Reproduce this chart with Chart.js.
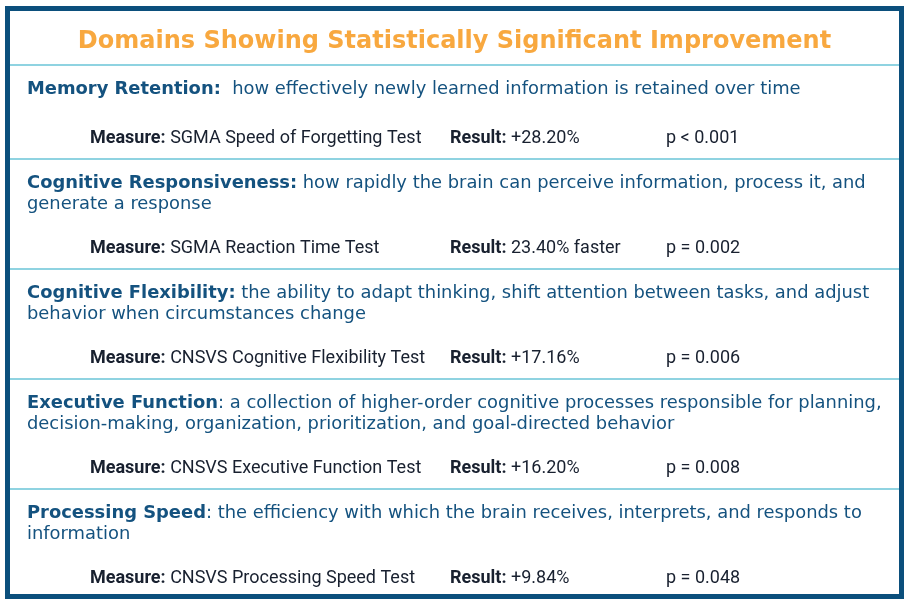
<!DOCTYPE html>
<html>
<head>
<meta charset="utf-8">
<script src="https://cdn.jsdelivr.net/npm/chart.js@4"></script>
<style>
  html, body { margin: 0; padding: 0; background: #ffffff; }
  #domainsChart { display: block; }
</style>
</head>
<body>
<canvas id="domainsChart" width="907" height="602"></canvas>
<script>
// Table content
const title = 'Domains Showing Statistically Significant Improvement';
const domains = ['Memory Retention:', 'Cognitive Responsiveness:', 'Cognitive Flexibility:', 'Executive Function', 'Processing Speed'];
const descriptions = [
  ['  how effectively newly learned information is retained over time'],
  [' how rapidly the brain can perceive information, process it, and', 'generate a response'],
  [' the ability to adapt thinking, shift attention between tasks, and adjust', 'behavior when circumstances change'],
  [': a collection of higher-order cognitive processes responsible for planning,', 'decision-making, organization, prioritization, and goal-directed behavior'],
  [': the efficiency with which the brain receives, interprets, and responds to', 'information']
];
const measures = ['SGMA Speed of Forgetting Test', 'SGMA Reaction Time Test', 'CNSVS Cognitive Flexibility Test', 'CNSVS Executive Function Test', 'CNSVS Processing Speed Test'];
const results = ['+28.20%', '23.40% faster', '+17.16%', '+16.20%', '+9.84%'];
const pValues = ['p < 0.001', 'p = 0.002', 'p = 0.006', 'p = 0.008', 'p = 0.048'];

// colours
const borderColor = '#0b4f7c';
const lineColor = '#8fd3e1';
const titleColor = '#f8a83f';
const domainColor = '#14527f';
const measureColor = '#18202f';

const descFont = '"DejaVu Sans", sans-serif';
const measureFont = 'Roboto, sans-serif';

// draws the whole table inside the chart area
const tablePlugin = {
  id: 'tablePlugin',
  afterDraw(chart) {
    const ctx = chart.ctx;
    const area = chart.chartArea;
    ctx.save();

    // title
    ctx.fillStyle = titleColor;
    ctx.font = 'bold 24px ' + descFont;
    ctx.textAlign = 'center';
    ctx.textBaseline = 'middle';
    ctx.fillText(title, (area.left + area.right) / 2, area.top + 31);

    let y = area.top + 54; // first separator
    const lineH = 21;
    for (let i = 0; i < domains.length; i++) {
      // separator above the row
      ctx.strokeStyle = lineColor;
      ctx.lineWidth = 2;
      ctx.beginPath();
      ctx.moveTo(area.left, Math.round(y));
      ctx.lineTo(area.right, Math.round(y));
      ctx.stroke();

      ctx.textAlign = 'left';
      let ty = y + 24;
      const x0 = area.left + 17;
      // domain name + first line of description
      ctx.fillStyle = domainColor;
      ctx.font = 'bold 17.9px ' + descFont;
      ctx.fillText(domains[i], x0, ty);
      const w = ctx.measureText(domains[i]).width;
      ctx.font = '17.9px ' + descFont;
      ctx.fillText(descriptions[i][0], x0 + w, ty);
      for (let k = 1; k < descriptions[i].length; k++) {
        ty += lineH;
        ctx.fillText(descriptions[i][k], x0, ty);
      }

      // measure / result / p value line
      ty += descriptions[i].length === 1 ? 49.5 : 44.5;
      ctx.fillStyle = measureColor;
      const cols = [
        [area.left + 80, 'Measure: ', measures[i]],
        [area.left + 440, 'Result: ', results[i]],
        [area.left + 656, '', pValues[i]]
      ];
      cols.forEach(([cx, label, text]) => {
        ctx.font = 'bold 18px ' + measureFont;
        ctx.fillText(label, cx, ty);
        const lw = label ? ctx.measureText(label).width : 0;
        ctx.font = '18px ' + measureFont;
        ctx.fillText(text, cx + lw, ty);
      });
      y = ty + 20.5;
    }

    // outer frame
    ctx.strokeStyle = borderColor;
    ctx.lineWidth = 5;
    ctx.strokeRect(area.left - 2.5, area.top - 2.5, area.right - area.left + 5, area.bottom - area.top + 5);
    ctx.restore();
  }
};

const ctx = document.getElementById('domainsChart').getContext('2d');
const domainsChart = new Chart(ctx, {
  type: 'bar',
  data: {
    labels: domains,
    datasets: []
  },
  options: {
    responsive: false,
    animation: false,
    layout: { padding: { left: 10, right: 8, top: 11, bottom: 8 } },
    plugins: {
      legend: { display: false },
      tooltip: { enabled: false }
    },
    scales: {
      x: { display: false },
      y: { display: false }
    }
  },
  plugins: [tablePlugin]
});
</script>
</body>
</html>
